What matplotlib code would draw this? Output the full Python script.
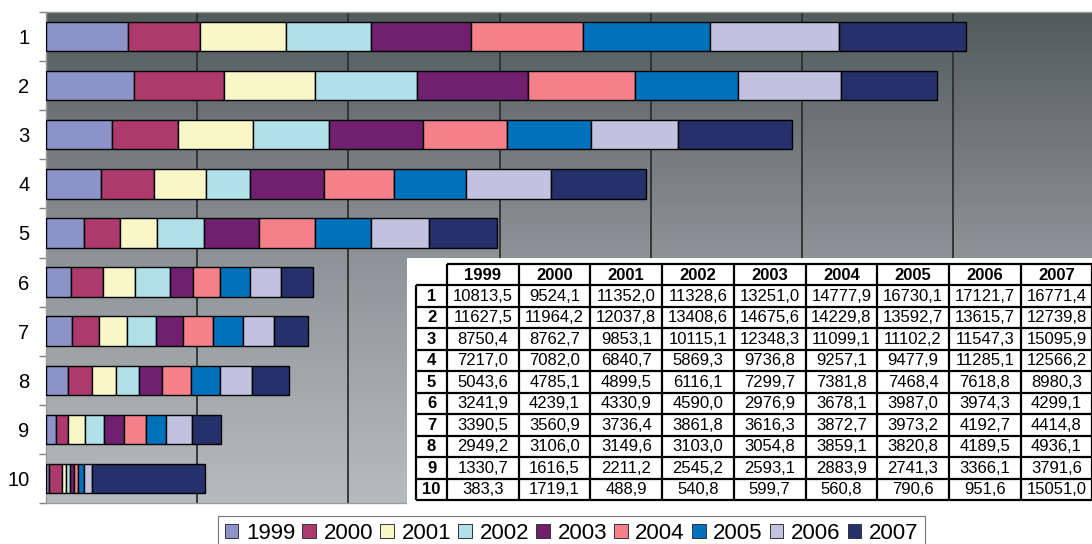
import matplotlib

matplotlib.use("Agg")
import matplotlib.pyplot as plt
import numpy as np
from matplotlib.colors import LinearSegmentedColormap
from matplotlib.patches import Patch

plt.rcParams["font.family"] = ["Liberation Sans", "DejaVu Sans"]

regions = ["1", "2", "3", "4", "5", "6", "7", "8", "9", "10"]
years = ["1999", "2000", "2001", "2002", "2003", "2004", "2005", "2006", "2007"]

# one list per year, regions 1..10
v1999 = [10813.5, 11627.5, 8750.4, 7217.0, 5043.6, 3241.9, 3390.5, 2949.2, 1330.7, 383.3]
v2000 = [9524.1, 11964.2, 8762.7, 7082.0, 4785.1, 4239.1, 3560.9, 3106.0, 1616.5, 1719.1]
v2001 = [11352.0, 12037.8, 9853.1, 6840.7, 4899.5, 4330.9, 3736.4, 3149.6, 2211.2, 488.9]
v2002 = [11328.6, 13408.6, 10115.1, 5869.3, 6116.1, 4590.0, 3861.8, 3103.0, 2545.2, 540.8]
v2003 = [13251.0, 14675.6, 12348.3, 9736.8, 7299.7, 2976.9, 3616.3, 3054.8, 2593.1, 599.7]
v2004 = [14777.9, 14229.8, 11099.1, 9257.1, 7381.8, 3678.1, 3872.7, 3859.1, 2883.9, 560.8]
v2005 = [16730.1, 13592.7, 11102.2, 9477.9, 7468.4, 3987.0, 3973.2, 3820.8, 2741.3, 790.6]
v2006 = [17121.7, 13615.7, 11547.3, 11285.1, 7618.8, 3974.3, 4192.7, 4189.5, 3366.1, 951.6]
v2007 = [16771.4, 12739.8, 15095.9, 12566.2, 8980.3, 4299.1, 4414.8, 4936.1, 3791.6, 15051.0]

colors = ["#8b93c9", "#ad3a6c", "#f9f7c8", "#b0e0ea", "#70206e",
          "#f4818a", "#0072bc", "#c2c2e0", "#24316b"]

series = [v1999, v2000, v2001, v2002, v2003, v2004, v2005, v2006, v2007]

W, H = 1092, 544
fig = plt.figure(figsize=(W / 100, H / 100), dpi=100)
fig.patch.set_facecolor("white")

# plot area (right part runs past the image edge, as in the original)
ax = fig.add_axes([46 / W, 1 - 503 / H, (1104.6 - 46) / W, (503 - 12) / H])

# gradient background, dark top -> light bottom
cmap = LinearSegmentedColormap.from_list("bg", ["#525b5b", "#8d9497", "#b8bbbd"])
grad = np.linspace(0, 1, 256).reshape(-1, 1)
ax.imshow(grad, cmap=cmap, aspect="auto", extent=[0, 1, 0, 1],
          transform=ax.transAxes, origin="upper", zorder=0)

y = np.arange(len(regions))
left = np.zeros(len(regions))
for vals, c in zip(series, colors):
    vals = np.array(vals)
    ax.barh(y, vals, left=left, height=0.6, color=c, edgecolor="black",
            linewidth=1.0, zorder=3)
    left += vals

ax.set_xlim(0, 140000)
ax.set_ylim(len(regions) - 0.5, -0.5)
ax.set_xticks(np.arange(20000, 140000, 20000))
ax.xaxis.grid(True, color="#2b3131", linewidth=1.3)
ax.set_axisbelow(True)
ax.tick_params(axis="x", length=0, labelbottom=False)

ax.set_yticks(y)
ax.set_yticklabels(regions, fontsize=14.5)
ax.set_yticks(np.arange(-0.5, len(regions), 1.0), minor=True)
ax.tick_params(axis="y", which="major", length=0, pad=12)
ax.tick_params(axis="y", which="minor", length=5, color="#808080", width=1)
for s in ax.spines.values():
    s.set_color("#9a9a9a")
    s.set_linewidth(1)

# data table on white panel
tax = fig.add_axes([407 / W, 1 - 505 / H, (W - 407) / W, (505 - 258) / H])
tax.set_xlim(407, W)
tax.set_ylim(505, 258)
tax.set_facecolor("white")
tax.set_xticks([])
tax.set_yticks([])
for s in tax.spines.values():
    s.set_visible(False)

lab_x0, col_x0, col_w = 416, 447, 71.7
head_top, head_bot, row_h = 264, 285, 21.5
col_edges = col_x0 + col_w * np.arange(len(years) + 1)
row_edges = head_bot + row_h * np.arange(len(regions) + 1)
lw = 1.6

tax.hlines(head_top, col_edges[0], col_edges[-1], color="black", lw=lw)
tax.hlines(row_edges, lab_x0, col_edges[-1], color="black", lw=lw)
tax.vlines(lab_x0, row_edges[0], row_edges[-1], color="black", lw=lw)
tax.vlines(col_edges, head_top, row_edges[-1], color="black", lw=lw)

for j, yr in enumerate(years):
    tax.text((col_edges[j] + col_edges[j + 1]) / 2, (head_top + head_bot) / 2 + 0.5, yr,
             ha="center", va="center", fontsize=12, fontweight="bold")
for i, reg in enumerate(regions):
    yc = (row_edges[i] + row_edges[i + 1]) / 2 + 0.5
    tax.text((lab_x0 + col_x0) / 2, yc, reg, ha="center", va="center",
             fontsize=12, fontweight="bold")
    for j, vals in enumerate(series):
        txt = f"{vals[i]:.1f}".replace(".", ",")
        tax.text((col_edges[j] + col_edges[j + 1]) / 2, yc, txt,
                 ha="center", va="center", fontsize=12)

handles = [Patch(facecolor=c, edgecolor="#333333", linewidth=0.7) for c in colors]
leg = fig.legend(handles, years, loc="upper left", bbox_to_anchor=(218 / W, 1 - 516 / H),
                 ncol=len(years), fontsize=16, frameon=True, fancybox=False,
                 handlelength=0.6, handleheight=0.6, handletextpad=0.35,
                 columnspacing=0.33, borderpad=0.3, borderaxespad=0)
leg.get_frame().set_edgecolor("#555555")
leg.get_frame().set_linewidth(0.8)

fig.savefig("out.png", dpi=100)
